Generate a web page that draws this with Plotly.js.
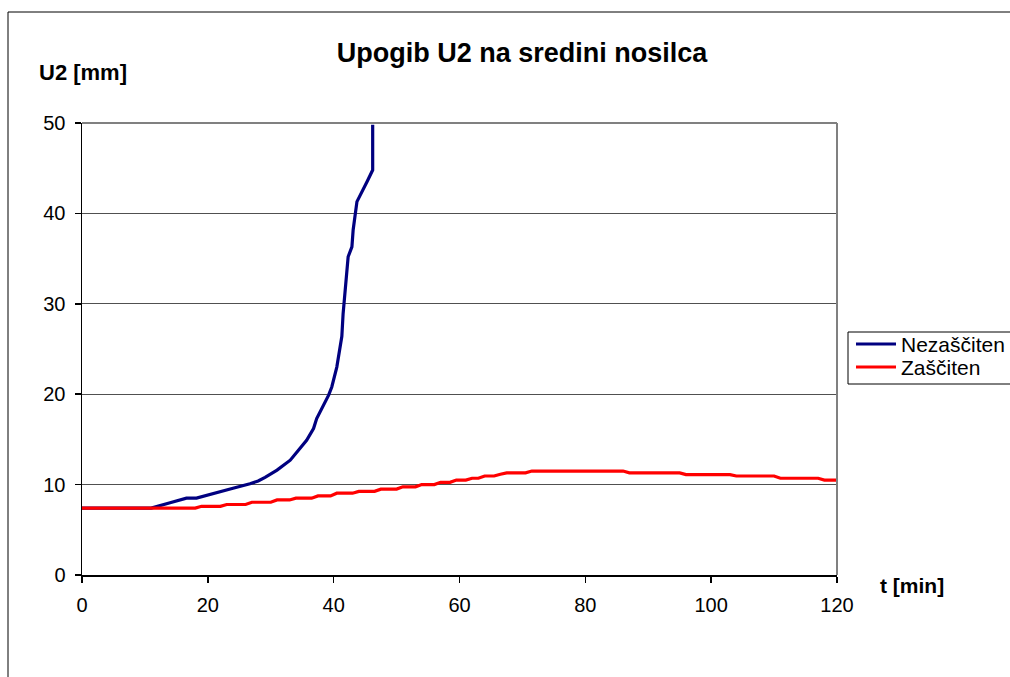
<!DOCTYPE html>
<html>
<head>
<meta charset="utf-8">
<script src="https://cdn.plot.ly/plotly-3.0.1.min.js"></script>
<style>html,body{margin:0;padding:0;background:#fff;}#chart{width:1010px;height:677px;}</style>
</head>
<body>
<div id="chart"></div>
<script>
// Nezaščiten (unprotected) beam: time [min] and deflection U2 [mm]
const tNezasciten = [0, 5, 11, 14, 16.6, 18.2, 21.4, 24, 26.7, 28, 29.1, 31, 33.1, 35.7, 36.8, 37.3, 39.2, 39.7, 40.5, 41.0, 41.3, 41.5, 41.7, 42.1, 42.3, 42.9, 43.1, 43.7, 44.7, 45.3, 46.2, 46.2];
const uNezasciten = [7.4, 7.4, 7.4, 8.0, 8.5, 8.5, 9.15, 9.6, 10.1, 10.4, 10.8, 11.6, 12.7, 14.9, 16.2, 17.3, 19.9, 20.8, 23.0, 24.9, 26.4, 28.9, 30.4, 34.1, 35.2, 36.3, 38.2, 41.3, 42.8, 43.5, 44.8, 49.8];

// Zaščiten (protected) beam
const tZasciten = [0, 18, 19, 22, 23, 26, 27, 30, 31, 33, 34, 36.5, 37.5, 39.5, 40.5, 43, 44, 46.5, 47.5, 50, 51, 53, 54, 56, 57, 58.5, 59.5, 61, 62, 63, 64, 65.5, 66.5, 67.5, 70.5, 71.5, 86, 87, 95, 96, 103, 104, 110, 111, 117, 118, 120];
const uZasciten = [7.4, 7.4, 7.6, 7.6, 7.8, 7.8, 8.05, 8.05, 8.3, 8.3, 8.5, 8.5, 8.75, 8.75, 9.05, 9.05, 9.25, 9.25, 9.5, 9.5, 9.75, 9.75, 10.0, 10.0, 10.25, 10.25, 10.5, 10.5, 10.7, 10.7, 10.95, 10.95, 11.15, 11.3, 11.3, 11.5, 11.5, 11.3, 11.3, 11.1, 11.1, 10.95, 10.95, 10.7, 10.7, 10.5, 10.5];

const seriesNames = ['Nezaščiten', 'Zaščiten'];
const seriesColors = ['#000080', '#FF0000'];
const xTicks = [0, 20, 40, 60, 80, 100, 120];
const yTicks = [0, 10, 20, 30, 40, 50];

const FONT = 'Liberation Sans, Arial, sans-serif';

// plot area in pixels: x 82..837, y 123..575
const PL = 82, PR = 837, PT = 123, PB = 575;
const px = v => (v - PL) / (PR - PL);
const py = v => (PB - v) / (PB - PT);

const traces = [
  {x: tNezasciten, y: uNezasciten, name: seriesNames[0], mode: 'lines', line: {color: seriesColors[0], width: 3.2}},
  {x: tZasciten, y: uZasciten, name: seriesNames[1], mode: 'lines', line: {color: seriesColors[1], width: 3.2}}
];

// custom legend (box, line samples, labels)
const legendShapes = [
  {type: 'rect', xref: 'paper', yref: 'paper', x0: px(848), x1: px(1040), y0: py(384), y1: py(332), line: {color: '#000', width: 1}, fillcolor: '#ffffff', layer: 'above'}
];
const legendAnn = [];
[344, 367].forEach((yy, i) => {
  legendShapes.push({type: 'line', xref: 'paper', yref: 'paper', x0: px(856), x1: px(896), y0: py(yy), y1: py(yy), line: {color: seriesColors[i], width: 3}, layer: 'above'});
  legendAnn.push({text: seriesNames[i], xref: 'paper', yref: 'paper', x: px(899), y: py(yy), xanchor: 'left', yanchor: 'middle', showarrow: false, font: {family: FONT, size: 21, color: '#000'}});
});

const layout = {
  width: 1010, height: 677,
  margin: {l: PL, r: 1010 - PR, t: PT, b: 677 - PB},
  paper_bgcolor: '#ffffff', plot_bgcolor: '#ffffff',
  font: {family: FONT, size: 20, color: '#000'},
  showlegend: false,
  title: {
    text: '<b>Upogib U2 na sredini nosilca</b>',
    font: {family: FONT, size: 27, color: '#000'},
    x: 522/1010, xref: 'container', xanchor: 'center',
    y: 1 - 53/677, yref: 'container', yanchor: 'middle'
  },
  xaxis: {
    range: [0, 120], tickvals: xTicks, ticktext: xTicks.map(String),
    showgrid: false, zeroline: false,
    showline: true, linecolor: '#000', linewidth: 1.5,
    ticks: 'outside', ticklen: 6, tickcolor: '#000', tickwidth: 1.5,
    ticklabelstandoff: 5,
    tickfont: {family: FONT, size: 20, color: '#000'},
    fixedrange: true
  },
  yaxis: {
    range: [0, 50], tickvals: yTicks, ticktext: yTicks.map(String),
    showgrid: true, gridcolor: '#505050', gridwidth: 1,
    zeroline: false,
    showline: true, linecolor: '#000', linewidth: 1.5,
    ticks: 'outside', ticklen: 6, tickcolor: '#000', tickwidth: 1.5,
    ticklabelstandoff: 5,
    tickfont: {family: FONT, size: 20, color: '#000'},
    fixedrange: true
  },
  shapes: [
    {type: 'line', xref: 'paper', yref: 'paper', x0: 0, x1: 1, y0: 1, y1: 1, line: {color: '#808080', width: 2}},
    {type: 'line', xref: 'paper', yref: 'paper', x0: 1, x1: 1, y0: 0, y1: 1, line: {color: '#808080', width: 2}},
    {type: 'line', xref: 'paper', yref: 'paper', x0: px(8), x1: px(8), y0: py(700), y1: py(12), line: {color: '#000', width: 1}},
    {type: 'line', xref: 'paper', yref: 'paper', x0: px(8), x1: px(1012), y0: py(12), y1: py(12), line: {color: '#000', width: 1}}
  ].concat(legendShapes),
  annotations: [
    {text: '<b>U2 [mm]</b>', xref: 'paper', yref: 'paper', x: px(83), y: py(73), xanchor: 'center', yanchor: 'middle', showarrow: false, font: {family: FONT, size: 22, color: '#000'}},
    {text: '<b>t [min]</b>', xref: 'paper', yref: 'paper', x: px(912), y: py(585), xanchor: 'center', yanchor: 'middle', showarrow: false, font: {family: FONT, size: 21, color: '#000'}}
  ].concat(legendAnn)
};

Plotly.newPlot('chart', traces, layout, {displayModeBar: false, staticPlot: true});
</script>
</body>
</html>
